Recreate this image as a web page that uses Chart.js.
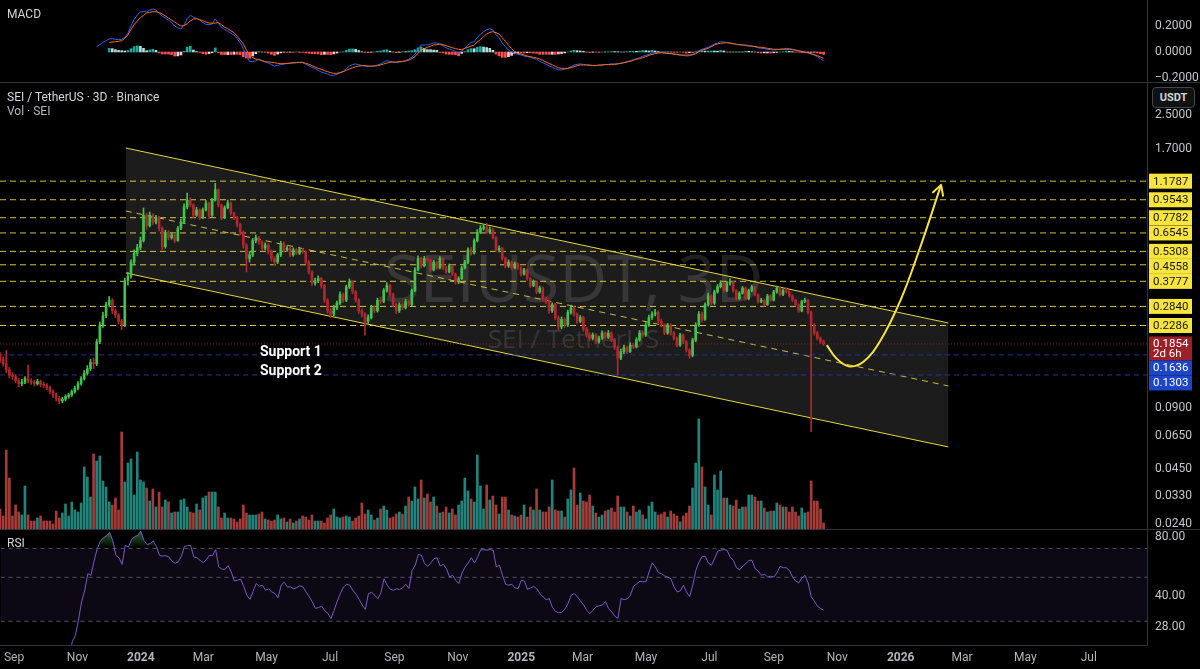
<!DOCTYPE html>
<html>
<head>
<meta charset="utf-8">
<script src="https://cdn.jsdelivr.net/npm/chart.js@4.4.1/dist/chart.umd.min.js"></script>
<style>
html,body{margin:0;padding:0;background:#000;width:1200px;height:669px;overflow:hidden;font-family:Roboto,"Open Sans",sans-serif;}
canvas{position:absolute;left:0;z-index:2;}
.sep{position:absolute;left:0;width:1200px;height:1px;background:#30333c;z-index:3;}
.lbl{position:absolute;white-space:nowrap;z-index:4;font-size:12px;color:#d1d4dc;}
.wm{position:absolute;left:0;width:1147px;text-align:center;font-family:"Open Sans",sans-serif;color:rgba(255,255,255,0.12);z-index:1;white-space:nowrap;}
#usdt{left:1152px;top:87px;width:41px;height:19px;border:1px solid #434651;border-radius:4px;background:#111;text-align:center;line-height:19px;font-size:11px;font-weight:bold;color:#d1d4dc;}
.sup{font-weight:bold;font-size:14px;color:#fff;}
</style>
</head>
<body>
<div class="wm" style="top:243px;font-size:66px;line-height:66px;">SEIUSDT, 3D</div>
<div class="wm" style="top:325px;font-size:26px;line-height:26px;">SEI / TetherUS</div>

<canvas id="macd" width="1200" height="82" style="top:0"></canvas>
<div class="sep" style="top:82px"></div>
<canvas id="main" width="1200" height="446" style="top:83px"></canvas>
<div class="sep" style="top:529px"></div>
<canvas id="rsi" width="1200" height="139" style="top:530px"></canvas>

<div class="lbl" style="left:7px;top:7px;">MACD</div>
<div class="lbl" style="left:7px;top:90px;">SEI / TetherUS · 3D · Binance</div>
<div class="lbl" style="left:7px;top:104px;color:#b2b5be;">Vol · SEI</div>
<div class="lbl" style="left:7px;top:536px;">RSI</div>
<div class="lbl" id="usdt">USDT</div>
<div class="lbl sup" style="left:260px;top:343px;">Support 1</div>
<div class="lbl sup" style="left:260px;top:362px;">Support 2</div>

<script>
// SEI/USDT 3-day candles, first candle 2023-08-16
const firstCandle = "2023-08-16";
const firstOpen = 0.175;

const closes = [
0.165,0.155,0.148,0.138,0.130,0.128,0.122,0.118,0.120,0.125,
0.122,0.120,0.118,0.121,0.117,0.116,0.113,0.108,0.104,0.100,
0.097,0.099,0.102,0.104,0.108,0.112,0.118,0.125,0.133,0.140,
0.150,0.148,0.190,0.230,0.255,0.290,0.305,0.270,0.258,0.240,
0.230,0.380,0.400,0.470,0.520,0.555,0.600,0.800,0.710,0.800,
0.740,0.780,0.690,0.560,0.660,0.620,0.640,0.600,0.690,0.740,
0.880,0.950,0.900,0.800,0.850,0.780,0.850,0.920,0.800,0.950,
1.070,0.900,0.780,0.870,0.920,0.820,0.780,0.720,0.660,0.570,
0.490,0.510,0.600,0.620,0.590,0.550,0.570,0.530,0.490,0.470,
0.510,0.580,0.540,0.550,0.510,0.540,0.520,0.540,0.530,0.470,
0.420,0.370,0.380,0.390,0.360,0.305,0.270,0.260,0.280,0.295,
0.325,0.305,0.355,0.375,0.335,0.305,0.270,0.260,0.240,0.250,
0.280,0.270,0.305,0.300,0.340,0.360,0.325,0.290,0.270,0.290,
0.280,0.300,0.290,0.340,0.430,0.490,0.450,0.490,0.480,0.430,
0.470,0.440,0.490,0.440,0.420,0.450,0.410,0.375,0.390,0.440,
0.470,0.540,0.520,0.600,0.660,0.690,0.700,0.660,0.680,0.620,
0.540,0.550,0.490,0.450,0.470,0.440,0.460,0.440,0.410,0.430,
0.390,0.360,0.375,0.335,0.350,0.310,0.300,0.270,0.290,0.250,
0.225,0.245,0.230,0.265,0.280,0.260,0.240,0.250,0.220,0.205,
0.198,0.205,0.190,0.198,0.210,0.200,0.210,0.194,0.178,0.158,
0.170,0.178,0.170,0.183,0.180,0.194,0.210,0.205,0.230,0.250,
0.260,0.265,0.240,0.230,0.210,0.230,0.210,0.198,0.183,0.205,
0.190,0.173,0.163,0.194,0.230,0.260,0.245,0.290,0.320,0.295,
0.335,0.355,0.370,0.340,0.370,0.375,0.340,0.310,0.330,0.350,
0.310,0.340,0.355,0.325,0.300,0.305,0.290,0.320,0.305,0.335,
0.350,0.325,0.340,0.335,0.320,0.305,0.290,0.270,0.300,0.305,
0.265,0.230,0.210,0.198,0.190,0.1854];

const highs = [
0.182,0.168,0.160,0.172,0.142,0.134,0.131,0.125,0.124,0.128,
0.146,0.125,0.123,0.124,0.123,0.120,0.118,0.115,0.110,0.106,
0.102,0.101,0.104,0.106,0.110,0.115,0.121,0.128,0.137,0.145,
0.156,0.158,0.196,0.238,0.266,0.298,0.318,0.310,0.276,0.262,
0.245,0.392,0.418,0.482,0.540,0.575,0.625,0.870,0.820,0.830,
0.815,0.800,0.790,0.700,0.675,0.672,0.660,0.648,0.705,0.765,
0.910,1.030,0.975,0.910,0.875,0.860,0.870,0.945,0.930,0.970,
1.150,1.080,0.910,0.890,0.950,0.930,0.830,0.790,0.730,0.670,
0.580,0.530,0.615,0.640,0.630,0.600,0.585,0.580,0.540,0.500,
0.520,0.595,0.590,0.565,0.558,0.552,0.548,0.556,0.550,0.535,
0.478,0.425,0.392,0.402,0.395,0.365,0.310,0.278,0.288,0.302,
0.335,0.330,0.362,0.388,0.380,0.340,0.310,0.276,0.265,0.258,
0.288,0.286,0.312,0.315,0.348,0.372,0.365,0.330,0.295,0.296,
0.296,0.308,0.305,0.346,0.442,0.505,0.498,0.502,0.500,0.486,
0.480,0.476,0.500,0.495,0.448,0.460,0.455,0.415,0.398,0.448,
0.480,0.552,0.555,0.612,0.680,0.712,0.720,0.730,0.700,0.688,
0.628,0.566,0.556,0.498,0.482,0.476,0.470,0.466,0.446,0.438,
0.435,0.395,0.384,0.380,0.358,0.355,0.316,0.305,0.296,0.294,
0.255,0.252,0.250,0.272,0.288,0.285,0.264,0.256,0.254,0.224,
0.210,0.210,0.208,0.203,0.215,0.213,0.216,0.213,0.197,0.181,
0.175,0.183,0.181,0.188,0.187,0.199,0.216,0.215,0.236,0.257,
0.268,0.275,0.270,0.246,0.233,0.234,0.233,0.214,0.201,0.209,
0.208,0.193,0.176,0.198,0.236,0.268,0.266,0.296,0.330,0.325,
0.342,0.364,0.380,0.375,0.378,0.390,0.378,0.344,0.336,0.356,
0.354,0.346,0.362,0.358,0.328,0.312,0.309,0.326,0.324,0.341,
0.358,0.354,0.346,0.352,0.339,0.324,0.308,0.293,0.305,0.312,
0.308,0.270,0.234,0.214,0.201,0.194];

const lows = [
0.160,0.150,0.144,0.134,0.126,0.124,0.119,0.114,0.115,0.118,
0.119,0.117,0.115,0.116,0.114,0.113,0.110,0.105,0.101,0.097,
0.094,0.095,0.097,0.100,0.102,0.106,0.110,0.116,0.123,0.130,
0.137,0.140,0.145,0.186,0.224,0.250,0.283,0.262,0.250,0.232,
0.218,0.226,0.362,0.392,0.455,0.505,0.540,0.590,0.680,0.700,
0.720,0.725,0.670,0.540,0.550,0.605,0.610,0.585,0.595,0.680,
0.730,0.860,0.880,0.780,0.790,0.760,0.770,0.840,0.770,0.790,
0.940,0.880,0.760,0.770,0.860,0.800,0.760,0.700,0.640,0.550,
0.420,0.470,0.500,0.585,0.575,0.535,0.540,0.515,0.475,0.455,
0.462,0.500,0.528,0.530,0.498,0.502,0.510,0.512,0.520,0.460,
0.410,0.360,0.362,0.372,0.350,0.296,0.262,0.250,0.255,0.274,
0.290,0.298,0.300,0.348,0.328,0.298,0.262,0.252,0.205,0.234,
0.246,0.264,0.266,0.292,0.296,0.334,0.318,0.284,0.262,0.265,
0.274,0.276,0.284,0.286,0.336,0.425,0.440,0.445,0.470,0.422,
0.425,0.432,0.435,0.430,0.412,0.415,0.402,0.366,0.368,0.385,
0.435,0.462,0.508,0.515,0.590,0.650,0.675,0.650,0.648,0.610,
0.530,0.528,0.480,0.440,0.442,0.432,0.435,0.432,0.402,0.405,
0.382,0.352,0.355,0.328,0.330,0.302,0.292,0.262,0.265,0.244,
0.218,0.220,0.224,0.226,0.260,0.254,0.234,0.236,0.214,0.200,
0.193,0.194,0.186,0.187,0.195,0.196,0.197,0.190,0.174,0.130,
0.155,0.166,0.166,0.168,0.176,0.177,0.191,0.200,0.202,0.226,
0.245,0.255,0.235,0.225,0.206,0.207,0.205,0.194,0.179,0.180,
0.186,0.169,0.158,0.160,0.190,0.226,0.238,0.242,0.285,0.288,
0.290,0.330,0.350,0.334,0.336,0.362,0.334,0.304,0.306,0.326,
0.305,0.306,0.336,0.320,0.295,0.296,0.285,0.287,0.300,0.302,
0.330,0.320,0.321,0.330,0.315,0.300,0.285,0.265,0.267,0.296,
0.260,0.0684,0.205,0.194,0.186,0.182];

// volume, millions of SEI
const volumes = [
28,20,13,79,51,13,24,17,14,43,
14,8,8,11,13,8,8,8,5,18,
11,16,25,13,27,19,17,26,62,52,
32,75,68,73,48,42,27,24,31,19,
97,47,66,70,34,77,49,47,41,28,
40,22,37,22,29,27,16,17,17,29,
30,22,17,16,25,19,31,33,37,37,
37,22,11,16,11,11,10,7,10,24,
16,14,14,14,15,17,10,9,8,9,
14,10,11,7,10,6,8,10,13,12,
9,14,8,8,8,6,11,14,20,12,
11,12,13,12,8,11,13,26,15,19,
14,9,11,20,23,19,11,12,15,
17,15,23,32,28,42,30,49,31,35,
27,32,23,16,17,22,16,20,14,24,
28,51,38,30,27,74,43,20,44,29,
33,24,15,32,32,19,14,13,12,14,
24,12,22,19,40,19,17,17,22,49,
19,18,18,12,30,39,61,24,36,28,
27,34,23,16,12,14,18,19,21,17,
33,22,22,17,13,23,17,19,14,10,
23,27,17,14,15,17,12,18,15,13,
7,13,16,23,41,66,110,62,42,24,
14,54,39,58,31,31,24,23,29,20,
22,22,34,34,32,28,28,21,17,18,
18,26,24,22,22,17,22,17,13,21,
16,17,48,28,28,20,6];

// MACD (12,26,9) line, starts at candle 32
const macdStart = 32;
const macdVals = [
0.041,0.056,0.074,0.087,0.100,0.103,0.097,0.095,0.097,0.113,
0.144,0.200,0.251,0.285,0.308,0.310,0.310,0.321,0.331,0.323,
0.297,0.277,0.262,0.246,0.226,0.200,0.185,0.177,0.208,0.256,
0.282,0.269,0.259,0.246,0.228,0.213,0.210,0.215,0.254,0.221,
0.190,0.172,0.159,0.144,0.131,0.103,0.072,0.026,-0.031,-0.074,
-0.074,-0.067,-0.056,-0.067,-0.077,-0.085,-0.097,-0.108,-0.103,-0.097,
-0.092,-0.090,-0.087,-0.085,-0.082,-0.082,-0.082,-0.095,-0.105,-0.118,
-0.128,-0.141,-0.154,-0.162,-0.169,-0.179,-0.179,-0.172,-0.159,-0.149,
-0.128,-0.108,-0.097,-0.092,-0.097,-0.103,-0.108,-0.113,-0.110,-0.108,
-0.100,-0.092,-0.077,-0.067,-0.072,-0.077,-0.082,-0.077,-0.072,-0.067,
-0.056,-0.041,-0.018,0.021,0.054,0.054,0.054,0.062,0.069,0.069,
0.059,0.049,0.033,0.023,0.015,0.005,-0.008,0.008,0.031,0.054,
0.072,0.079,0.113,0.136,0.156,0.172,0.179,0.169,0.133,0.108,
0.069,0.041,0.015,0.000,-0.010,-0.018,-0.023,-0.031,-0.036,-0.041,
-0.049,-0.056,-0.072,-0.082,-0.095,-0.105,-0.118,-0.128,-0.136,-0.138,
-0.133,-0.126,-0.113,-0.100,-0.095,-0.092,-0.095,-0.100,-0.103,-0.105,
-0.105,-0.103,-0.100,-0.097,-0.095,-0.092,-0.092,-0.090,-0.087,-0.082,
-0.074,-0.067,-0.059,-0.051,-0.044,-0.033,-0.026,-0.018,-0.005,-0.005,
-0.005,-0.005,-0.008,-0.010,-0.013,-0.018,-0.021,-0.023,-0.026,-0.031,
-0.028,-0.023,-0.010,0.010,0.021,0.028,0.036,0.049,0.062,0.069,
0.079,0.077,0.072,0.069,0.064,0.059,0.056,0.054,0.054,0.051,
0.046,0.041,0.033,0.028,0.026,0.021,0.018,0.015,0.018,0.021,
0.023,0.028,0.026,0.021,0.013,0.008,0.000,-0.005,-0.008,-0.015,
-0.023,-0.036,-0.051,-0.067];

// MACD signal line, starts at candle 36
const signalStart = 36;
const signalVals = [
0.072,0.077,0.079,0.082,0.087,0.105,0.133,0.174,0.210,0.238,
0.264,0.282,0.300,0.305,0.310,0.310,0.303,0.292,0.277,0.262,
0.246,0.231,0.215,0.200,0.203,0.218,0.238,0.254,0.256,0.249,
0.241,0.231,0.223,0.221,0.223,0.226,0.210,0.192,0.179,0.164,
0.149,0.121,0.092,0.062,0.015,-0.026,-0.044,-0.054,-0.059,-0.067,
-0.074,-0.077,-0.079,-0.082,-0.087,-0.090,-0.090,-0.087,-0.085,-0.082,
-0.082,-0.079,-0.079,-0.087,-0.095,-0.105,-0.115,-0.126,-0.133,-0.144,
-0.151,-0.159,-0.164,-0.164,-0.159,-0.151,-0.141,-0.131,-0.121,-0.113,
-0.108,-0.105,-0.105,-0.108,-0.108,-0.108,-0.105,-0.100,-0.092,-0.085,
-0.079,-0.077,-0.077,-0.074,-0.074,-0.069,-0.064,-0.051,-0.036,-0.010,
0.015,0.026,0.036,0.044,0.054,0.056,0.062,0.056,0.049,0.041,
0.033,0.026,0.021,0.018,0.028,0.036,0.046,0.054,0.077,0.095,
0.118,0.138,0.151,0.156,0.149,0.138,0.110,0.082,0.051,0.026,
0.003,-0.010,-0.015,-0.023,-0.031,-0.036,-0.041,-0.046,-0.054,-0.064,
-0.077,-0.087,-0.100,-0.110,-0.121,-0.126,-0.126,-0.126,-0.121,-0.113,
-0.105,-0.100,-0.100,-0.100,-0.100,-0.103,-0.103,-0.100,-0.100,-0.097,
-0.097,-0.095,-0.095,-0.092,-0.087,-0.082,-0.077,-0.072,-0.064,-0.056,
-0.051,-0.044,-0.036,-0.026,-0.018,-0.013,-0.008,-0.005,-0.008,-0.010,
-0.013,-0.015,-0.018,-0.023,-0.023,-0.023,-0.023,-0.018,-0.013,0.003,
0.013,0.021,0.028,0.041,0.054,0.062,0.067,0.069,0.072,0.069,
0.064,0.059,0.056,0.054,0.049,0.046,0.044,0.041,0.038,0.036,
0.033,0.028,0.026,0.021,0.021,0.021,0.021,0.021,0.021,0.018,
0.015,0.010,0.005,0.000,-0.005,-0.013,-0.021,-0.028,-0.038,-0.049];

// RSI (14), starts at candle 23
const rsiStart = 23;
const rsiVals = [
19.0,23.6,25.4,30.4,37.6,42.7,52.2,51.2,60.2,69.7,
75.9,79.2,81.0,84.3,76.8,64.5,62.8,58.1,72.4,71.1,
77.4,80.4,81.4,85.6,76.8,73.3,73.9,76.2,71.6,64.5,
64.0,64.3,63.3,60.4,58.8,59.9,63.8,71.6,72.4,72.4,
63.3,62.8,60.9,59.3,61.4,64.5,64.5,68.9,56.4,54.9,
54.9,57.3,53.2,47.9,48.3,49.0,45.0,40.6,38.7,42.5,
46.5,45.0,45.6,43.0,43.7,42.2,41.4,39.4,45.6,47.2,
44.7,44.7,43.7,44.3,45.4,44.7,42.2,39.8,37.6,34.8,
35.2,35.7,33.9,32.8,30.9,34.1,37.9,41.4,44.7,46.1,
45.6,43.0,41.1,38.7,36.2,34.4,41.4,42.0,40.6,39.0,
41.7,49.2,45.6,43.5,43.0,43.7,43.4,44.3,46.1,43.9,
54.2,57.5,65.3,64.5,58.6,56.8,59.1,62.1,62.8,57.0,
58.1,55.3,50.2,51.2,48.3,46.5,52.6,56.4,59.1,62.8,
59.1,63.3,68.9,68.9,68.6,69.1,68.4,56.4,57.5,51.2,
46.1,45.6,46.1,44.2,43.9,48.3,47.9,43.4,44.2,45.0,
43.7,41.4,39.8,38.6,39.0,35.2,33.6,33.1,33.3,34.5,
36.9,40.6,41.4,39.8,38.0,36.2,34.1,32.8,34.1,35.5,
35.9,36.2,37.7,34.8,33.4,31.8,31.0,39.0,38.6,38.9,
40.6,45.0,46.3,47.7,47.5,47.5,53.2,59.1,56.4,52.8,
52.1,50.8,50.2,49.2,44.7,42.2,42.7,45.6,42.2,40.0,
45.6,54.2,59.7,63.8,63.8,59.1,57.5,62.1,67.8,68.6,
69.1,68.4,63.3,60.9,55.9,54.6,56.8,58.6,60.9,60.9,
55.3,53.8,51.2,51.8,50.2,50.6,50.2,52.6,56.8,55.9,
55.9,54.2,50.2,47.9,46.8,49.6,51.2,46.8,39.8,37.9,
35.7,34.8,34.1];

// horizontal levels drawn on the chart
const levels = [1.1787,0.9543,0.7782,0.6545,0.5308,0.4558,0.3777,0.2840,0.2286];
const supports = [0.1636,0.1303];
const lastPrice = 0.1854;
const countdown = "2d 6h";

// descending channel anchors [date, price]
const channelTop = [["2023-12-18",1.718],["2026-02-16",0.2352]];
const channelMid = [["2023-12-18",0.840],["2026-02-16",0.115]];
const channelBot = [["2023-12-18",0.415],["2026-02-16",0.0575]];

// projected path (yellow arrow)
const arrowPath = [["2025-10-22",0.183],["2025-10-31",0.158],["2025-11-12",0.144],["2025-11-26",0.151],
  ["2025-12-13",0.194],["2026-01-01",0.305],["2026-01-19",0.539],["2026-02-09",1.13]];

const viewStart = "2023-08-19", viewEnd = "2026-08-26";
const tickDates = ["2023-09-01","2023-11-01","2024-01-01","2024-03-01","2024-05-01","2024-07-01","2024-09-01",
  "2024-11-01","2025-01-01","2025-03-01","2025-05-01","2025-07-01","2025-09-01","2025-11-01","2026-01-01",
  "2026-03-01","2026-05-01","2026-07-01"];
const tickLabels = ["Sep","Nov","2024","Mar","May","Jul","Sep","Nov","2025","Mar","May","Jul","Sep","Nov","2026","Mar","May","Jul"];

const priceTicks = [2.5,1.7,0.09,0.065,0.045,0.033,0.024];
const macdTicks = [0.2,0,-0.2];
const rsiTicks = [80,40,28];

// ---------------------------------------------------------------
const day = s => (Date.parse(s) - Date.parse("2024-01-01")) / 86400000;
const xMin = day(viewStart), xMax = day(viewEnd);
const candleDays = closes.map((c, i) => day(firstCandle) + 3 * i);
const opens = closes.map((c, i) => i === 0 ? firstOpen : closes[i - 1]); // crypto candles open at prior close
const isUp = closes.map((c, i) => c >= opens[i]);
const UP = "#43c24b", DOWN = "#b3262f";
const YEL = "rgba(247,228,60,0.85)";

const series = (vals, start) => vals.map((v, k) => ({x: candleDays[start + k], y: v}));
const hline = v => [{x: xMin, y: v}, {x: xMax, y: v}];
const anchors = a => a.map(p => ({x: day(p[0]), y: p[1]}));

Chart.defaults.font.family = "Roboto";
Chart.defaults.font.size = 12;

function xScale(show) {
  return {
    type: "linear", min: xMin, max: xMax, offset: false, bounds: "data", display: show,
    grid: {display: false, drawTicks: false, offset: false},
    border: {display: show, color: "#30333c"},
    afterBuildTicks: s => { s.ticks = tickDates.map(d => ({value: day(d)})); },
    afterFit: s => { if (show) { s.height = 24; } s.paddingLeft = 0; s.paddingRight = 0; },
    ticks: {
      autoSkip: false, maxRotation: 0, padding: 6, color: "#b2b5be",
      font: ctx => ({family: "Roboto", size: 12, weight: /^\d{4}$/.test(tickLabels[ctx.index]) ? "bold" : "normal"}),
      callback: (v, i) => tickLabels[i]
    }
  };
}
function yScale(type, min, max, tickVals, fmt) {
  return {
    type, min, max, position: "right", bounds: "data",
    grid: {display: false, drawTicks: false},
    border: {display: true, color: "#30333c"},
    afterBuildTicks: s => { s.ticks = tickVals.map(v => ({value: v})); },
    afterFit: s => { s.width = 53; s.paddingTop = 0; s.paddingBottom = 0; },
    ticks: {padding: 8, color: "#c3c6ce", font: {size: 12}, callback: fmt}
  };
}
const baseOpts = {
  responsive: false, animation: false, events: [],
  layout: {padding: 0},
  plugins: {legend: {display: false}, tooltip: {enabled: false}}
};
const lineDs = (data, color, extra) => Object.assign({
  type: "line", data, borderColor: color, borderWidth: 1, pointRadius: 0, tension: 0, fill: false
}, extra || {});

// ---------------- MACD pane ----------------
const histPts = signalVals.map((s, k) => {
  const i = signalStart + k;
  return {x: candleDays[i], y: macdVals[i - macdStart] - s};
});
const histColors = histPts.map((p, k) => {
  const prev = k === 0 ? 0 : histPts[k - 1].y;
  if (p.y >= 0) return p.y > prev ? "#26a69a" : "#b2dfdb";
  return p.y > prev ? "#ffcdd2" : "#ff5252";
});
new Chart(document.getElementById("macd"), {
  type: "line",
  data: {datasets: [
    {type: "bar", data: histPts, backgroundColor: histColors, barThickness: 2, grouped: false, order: 2},
    lineDs(series(macdVals, macdStart), "#2962ff", {order: 1}),
    lineDs(series(signalVals, signalStart), "#ff6d00", {order: 0})
  ]},
  options: Object.assign({}, baseOpts, {
    scales: {
      x: xScale(false),
      y: yScale("linear", -0.2308, 0.4, macdTicks, v => (v < 0 ? "\u2212" : "") + Math.abs(v).toFixed(4))
    }
  })
});

// ---------------- main price pane ----------------
const arrowHead = {
  id: "arrowHead",
  afterDatasetsDraw(chart) {
    const ds = chart.data.datasets.findIndex(d => d.label === "arrow");
    const p = chart.getDatasetMeta(ds).data;
    const a = p[p.length - 2], b = p[p.length - 1];
    const ang = Math.atan2(b.y - a.y, b.x - a.x);
    const ctx = chart.ctx;
    ctx.save();
    ctx.strokeStyle = "#f7e43c"; ctx.lineWidth = 2; ctx.lineCap = "round";
    ctx.beginPath();
    [0.5, -0.5].forEach(o => {
      ctx.moveTo(b.x, b.y);
      ctx.lineTo(b.x - 11 * Math.cos(ang + o), b.y - 11 * Math.sin(ang + o));
    });
    ctx.stroke();
    ctx.restore();
  }
};
const axisTags = {
  id: "axisTags",
  afterDraw(chart) {
    const {ctx, chartArea} = chart;
    const y = chart.scales.y;
    const tags = levels.map(v => ({v, text: [v.toFixed(4)], bg: "#f7e43c", fg: "#131722"}));
    tags.push({v: lastPrice, text: [lastPrice.toFixed(4), countdown], bg: "#9c2028", fg: "#ffffff"});
    supports.forEach(v => tags.push({v, text: [v.toFixed(4)], bg: "#1d45c6", fg: "#ffffff"}));
    tags.sort((a, b) => b.v - a.v);
    let prevBottom = -Infinity;
    ctx.save();
    ctx.textBaseline = "middle";
    ctx.font = "11.5px Roboto";
    tags.forEach(t => {
      const h = t.text.length === 1 ? 15 : 24;
      const top = Math.max(y.getPixelForValue(t.v) - 7.5, prevBottom);
      ctx.fillStyle = t.bg;
      ctx.fillRect(chartArea.right + 2, top, 43, h);
      ctx.fillStyle = t.fg;
      t.text.forEach((s, k) => ctx.fillText(s, chartArea.right + 6, top + 8 + k * 10));
      prevBottom = top + h;
    });
    ctx.restore();
  }
};

const mainSets = [
  lineDs(anchors(channelTop), "#e6d53c", {fill: "+1", backgroundColor: "rgba(255,255,255,0.11)", order: 20}),
  lineDs(anchors(channelBot), "#e6d53c", {order: 19}),
  lineDs(anchors(channelMid), "rgba(230,213,60,0.85)", {borderDash: [6, 5], order: 18}),
];
levels.forEach(v => mainSets.push(lineDs(hline(v), YEL, {borderDash: [6, 4], order: 15})));
supports.forEach(v => mainSets.push(lineDs(hline(v), "#26339a", {borderDash: [5, 4], order: 15})));
mainSets.push(lineDs(hline(lastPrice), "#8a1f26", {borderDash: [1, 2], order: 15}));
mainSets.push({type: "bar", yAxisID: "yVol", grouped: false, barThickness: 2, order: 10,
  data: volumes.map((v, i) => ({x: candleDays[i], y: v})),
  backgroundColor: volumes.map((v, i) => isUp[i] ? "#1f857c" : "#a53c39")});
mainSets.push({type: "bar", grouped: false, barThickness: 1, order: 3,
  data: candleDays.map((d, i) => ({x: d, y: [lows[i], highs[i]]})),
  backgroundColor: isUp.map(u => u ? UP : DOWN)});
mainSets.push({type: "bar", grouped: false, barThickness: 2, minBarLength: 1, order: 2,
  data: candleDays.map((d, i) => ({x: d, y: [opens[i], closes[i]]})),
  backgroundColor: isUp.map(u => u ? UP : DOWN)});
mainSets.push(lineDs(anchors(arrowPath), "#f7e43c", {label: "arrow", borderWidth: 2, tension: 0.4, order: 0}));

new Chart(document.getElementById("main"), {
  type: "line",
  data: {datasets: mainSets},
  options: Object.assign({}, baseOpts, {
    scales: {
      x: xScale(false),
      y: yScale("logarithmic", 0.02264, 3.596, priceTicks, v => Number(v).toFixed(4)),
      yVol: {type: "linear", display: false, min: 0, max: 446, bounds: "data"}
    }
  }),
  plugins: [arrowHead, axisTags]
});

// ---------------- RSI pane ----------------
const bandStyle = {borderColor: "rgba(150,152,160,0.55)", borderDash: [4, 4], order: 5};
const rsiChart = new Chart(document.getElementById("rsi"), {
  type: "line",
  data: {datasets: [
    lineDs(hline(70), "", Object.assign({}, bandStyle, {fill: 2, backgroundColor: "rgba(126,87,194,0.1)"})),
    lineDs(hline(50), "", Object.assign({}, bandStyle)),
    lineDs(hline(30), "", Object.assign({}, bandStyle)),
    lineDs(series(rsiVals, rsiStart), "#7e57c2", {order: 0,
      fill: {target: {value: 70}, above: "rgba(76,175,80,0.3)", below: "rgba(0,0,0,0)"}})
  ]},
  options: Object.assign({}, baseOpts, {
    scales: {
      x: xScale(true),
      y: yScale("logarithmic", 22.75, 86.2, rsiTicks, v => Number(v).toFixed(2))
    }
  })
});
// overbought zone fades from green (top) to transparent at 70
const ry = rsiChart.scales.y;
const obGrad = rsiChart.ctx.createLinearGradient(0, ry.getPixelForValue(90), 0, ry.getPixelForValue(70));
obGrad.addColorStop(0, "rgba(76,175,80,0.75)");
obGrad.addColorStop(1, "rgba(76,175,80,0)");
rsiChart.data.datasets[3].fill.above = obGrad;
rsiChart.update("none");
</script>
</body>
</html>
